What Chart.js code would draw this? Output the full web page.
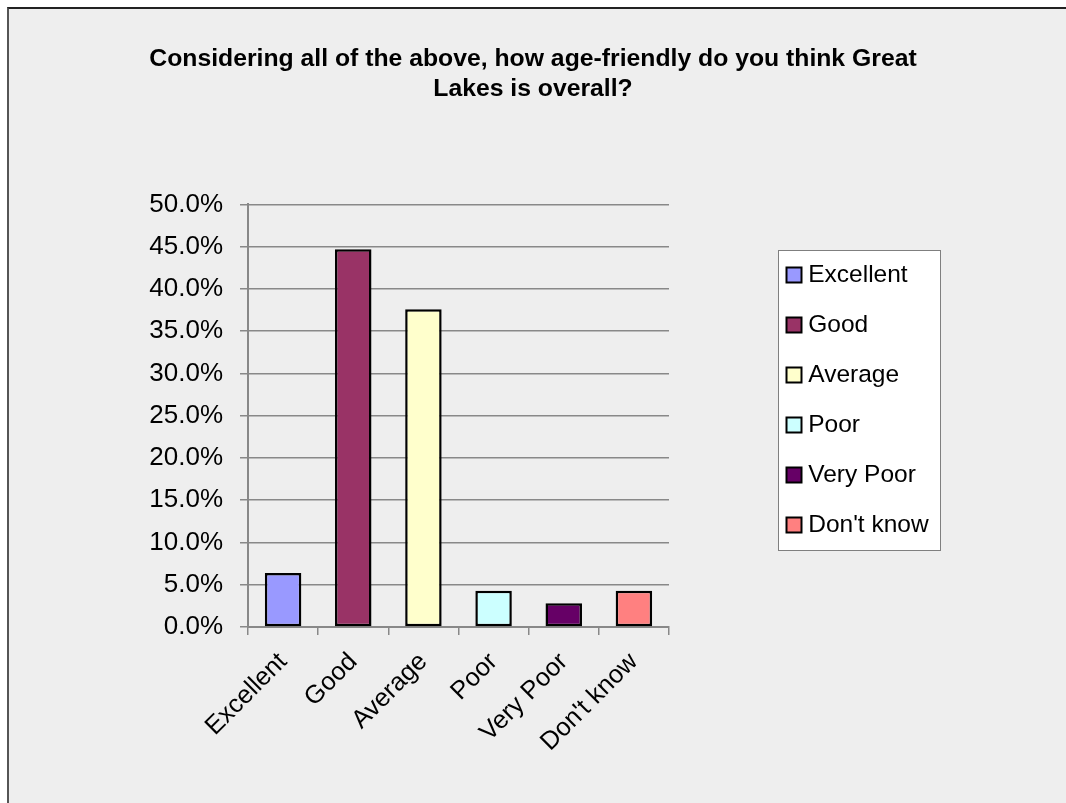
<!DOCTYPE html>
<html>
<head>
<meta charset="utf-8">
<script src="https://cdn.jsdelivr.net/npm/chart.js@4"></script>
<style>
  html, body { margin: 0; padding: 0; background: #fff; overflow: hidden; }
  #frame { position: absolute; left: 7px; top: 7px; width: 1100px; height: 850px;
           background: #eeeeee; border-top: 2px solid #222; border-left: 2px solid #555; }
  #revenue { position: absolute; left: 0; top: 0; }
</style>
</head>
<body>
<div id="frame"></div>
<canvas id="revenue" width="1066" height="803"></canvas>
<script>
var categories = ['Excellent', 'Good', 'Average', 'Poor', 'Very Poor', "Don't know"];
var percentValues = [6.4, 44.7, 37.6, 4.3, 2.8, 4.3];
var barColors = ['#9999ff', '#993366', '#ffffcc', '#ccffff', '#660066', '#ff8080'];
var titleLines = ['Considering all of the above, how age-friendly do you think Great', 'Lakes is overall?'];
var yMax = 50;
var yStep = 5;

var fontName = "'Liberation Sans', Arial, sans-serif";
var legendSize = 24.5;
var legendPad = 25.5;

// work out how wide the legend will be so it lands where it should
var ctx0 = document.createElement('canvas').getContext('2d');
ctx0.font = legendSize + 'px ' + fontName;
var widest = Math.max(...categories.map(c => ctx0.measureText(c).width));
var legendWidth = legendPad + 4 + legendSize / 2 + widest + 10;
var legendLeft = 792 - legendPad;
var sidePad = 1066 - legendLeft - legendWidth;   // same on both sides keeps the title centred

// white box behind the legend
var legendBox = {
  id: 'legendBox',
  beforeDraw: (chart) => {
    var lg = chart.legend;
    if (!lg || !lg.columnSizes || !lg.columnSizes.length) return;
    var col = lg.columnSizes[0];
    var x = lg.left + legendPad;
    var y0 = (lg.top + legendPad + lg.bottom - col.height) / 2;
    var c = chart.ctx;
    c.save();
    c.fillStyle = '#ffffff';
    c.strokeStyle = '#7f7f7f';
    c.lineWidth = 1;
    var bx = Math.round(x - 14) + 0.5;
    var by = Math.round(y0 - 13) + 0.5;
    var bw = Math.round(col.width + 14 + 11);
    var bh = Math.round(col.height - legendPad + 25);
    c.fillRect(bx, by, bw, bh);
    c.strokeRect(bx, by, bw, bh);
    c.restore();
  }
};

new Chart(document.getElementById('revenue'), {
  type: 'bar',
  data: {
    labels: categories,
    datasets: [{
      label: 'overall',
      data: percentValues,
      backgroundColor: barColors,
      borderColor: '#000',
      borderWidth: 2.5,
      borderSkipped: false,
      barPercentage: 0.52,
      categoryPercentage: 1
    }]
  },
  options: {
    responsive: false,
    animation: false,
    layout: { padding: { left: sidePad, right: sidePad, top: 0, bottom: 3 } },
    plugins: {
      title: {
        display: true,
        text: titleLines,
        color: '#000',
        font: { family: fontName, size: 24.75, weight: 'bold', lineHeight: 1.22 },
        padding: { top: 44, bottom: 100 }
      },
      legend: {
        display: true,
        position: 'right',
        align: 'center',
        maxWidth: 400,
        labels: {
          color: '#000',
          font: { family: fontName, size: legendSize },
          padding: legendPad,
          usePointStyle: true,
          boxWidth: 4,
          boxHeight: 15,
          generateLabels: (chart) => categories.map((c, i) => ({
            text: c,
            fillStyle: barColors[i],
            strokeStyle: '#000',
            lineWidth: 2,
            pointStyle: 'rect',
            hidden: false,
            index: i,
            datasetIndex: 0
          }))
        },
        onClick: () => {}
      },
      tooltip: { enabled: false }
    },
    scales: {
      x: {
        grid: { display: true, drawOnChartArea: false, drawTicks: true, tickLength: 8, color: '#888', lineWidth: 1.5, offset: true },
        border: { display: true, color: '#888', width: 2 },
        ticks: { color: '#000', font: { family: fontName, size: 25.5 }, minRotation: 45, maxRotation: 45, padding: 12 },
        afterFit: (s) => { s.height = 173; }
      },
      y: {
        min: 0,
        max: yMax,
        grid: { color: '#888', lineWidth: 1.5, tickLength: 8 },
        border: { display: true, color: '#888', width: 2 },
        ticks: {
          stepSize: yStep,
          color: '#000',
          font: { family: fontName, size: 26 },
          padding: 17,
          callback: (v) => v.toFixed(1) + '%'
        },
        afterFit: (s) => { s.width = 248 - sidePad; }
      },
      yR: {
        type: 'linear',
        position: 'right',
        display: true,
        grid: { display: false },
        border: { display: false },
        ticks: { display: false },
        afterFit: (s) => { s.width = legendLeft - 669; }
      }
    }
  },
  plugins: [legendBox]
});
</script>
</body>
</html>
